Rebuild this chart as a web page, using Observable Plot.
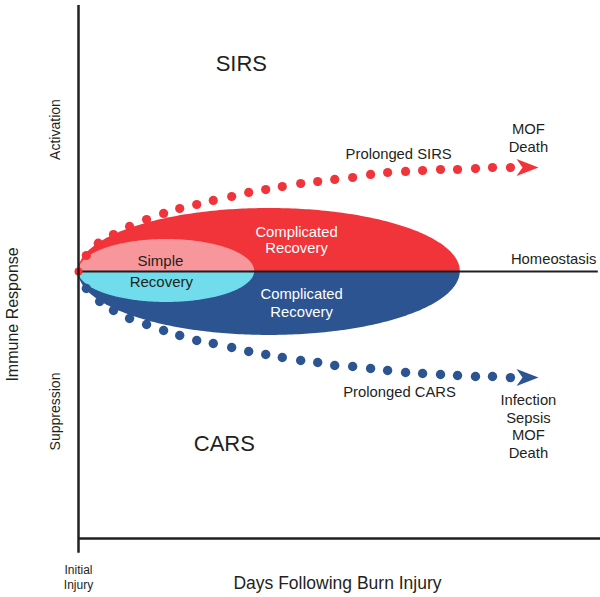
<!DOCTYPE html>
<html>
<head>
<meta charset="utf-8">
<script src="https://cdn.jsdelivr.net/npm/d3@7"></script>
<script src="https://cdn.jsdelivr.net/npm/@observablehq/plot@0.6"></script>
<style>
  html, body { margin: 0; padding: 0; background: #fff; }
  #chart svg { display: block; }
</style>
</head>
<body>
<div id="chart"></div>
<script>
// ---- data (days after injury on x, immune response on y; 0 = homeostasis) ----
const sirsDays = [1.7, 4.3, 7.6, 11.1, 14.8, 18.5, 22.0, 25.7, 29.3, 33.3, 37.0, 40.7, 44.3, 48.3, 52.0, 55.7, 59.6, 63.5, 67.2, 71.1, 74.8, 78.7, 82.4, 86.3, 90.0, 93.9];
const sirsResponse = [15.4, 27.2, 35.6, 43.3, 50, 55.8, 60.6, 64.4, 68.3, 72.1, 76, 78.8, 81.7, 84.6, 86.5, 88.5, 90.4, 93.3, 95.2, 96.2, 97.1, 98.1, 98.1, 99, 100, 100];
const carsDays = [1.7, 4.6, 7.6, 11.1, 14.8, 18.5, 22.0, 25.7, 29.3, 33.3, 37.0, 40.7, 44.3, 48.3, 52.0, 55.7, 59.6, 63.5, 67.2, 71.1, 74.8, 78.7, 82.4, 86.3, 90.0, 93.9];
const carsResponse = [-16.3, -28.8, -37.5, -45.2, -51, -56.7, -61.5, -66.3, -69.2, -73.1, -76.9, -79.8, -82.7, -85.6, -87.5, -90.4, -91.3, -93.3, -95.2, -97.1, -98.1, -99, -100, -101, -101, -102];
const arrowDays = [100, 100];
const arrowResponse = [100, -102];

// recovery zones: [start day, end day, peak activation, peak suppression]
const complicatedRecovery = [0, 83, 60.6, -61.5];
const simpleRecovery = [0, 38.3, 30.8, -29.8];

// frame
const yAxisSpan = [-271, 255.8];
const xAxisLevel = [-256.7];
const xAxisSpan = [0, 113.5];
const homeostasisSpan = [0, 113];

// labels
const bigLabels = ["SIRS", "CARS"];
const bigLabelX = [35.4, 31.7];
const bigLabelY = [200, -166.3];

const noteLabels = ["Prolonged SIRS", "MOF", "Death", "Prolonged CARS", "Infection", "Sepsis", "MOF", "Death", "Homeostasis"];
const noteX = [69.6, 97.8, 97.8, 69.8, 97.8, 97.8, 97.8, 97.8, 103.3];
const noteY = [112.5, 136.5, 119.2, -116.3, -124, -141.3, -157.7, -175, 11.5];

const zoneLabels = ["Complicated", "Recovery", "Complicated", "Recovery"];
const zoneX = [47.4, 47.4, 48.5, 48.5];
const zoneY = [37.5, 22.1, -22.1, -39.4];

const simpleLabels = ["Simple", "Recovery"];
const simpleX = [17.8, 18.0];
const simpleY = [9.6, -10.6];

const sideLabels = ["Activation", "Suppression"];
const sideX = [-5, -5];
const sideY = [136.5, -134.6];

const axisTitleY = ["Immune Response"];
const axisTitleYx = [-14.3];
const axisTitleYy = [-41.3];

const injuryLabels = ["Initial", "Injury"];
const injuryX = [0, 0];
const injuryY = [-287.5, -301.9];

const axisTitleX = ["Days Following Burn Injury"];
const axisTitleXx = [56.3];
const axisTitleXy = [-300];

// ---- build tables ----
const zip = (xs, ys, extra) => xs.map((x, i) => ({x, y: ys[i], ...(extra ? {t: extra[i]} : {})}));
const halfEllipse = ([x0, x1, up, down], upper) => {
  const cx = (x0 + x1) / 2, rx = (x1 - x0) / 2, h = upper ? up : down;
  return d3.range(0, 181).map(a => {
    const th = a * Math.PI / 180;
    return {x: cx - rx * Math.cos(th), y: h * Math.sin(th)};
  });
};

const RED = "#f1343a", BLUE = "#2c5491", PINK = "#f7979b", CYAN = "#70dcec", INK = "#231f20";
const FONT = "'Liberation Sans', Arial, Helvetica, sans-serif";

const arrowHead = {
  draw(ctx) {
    ctx.moveTo(0, 0);
    ctx.lineTo(-22, -8.5);
    ctx.lineTo(-16, 0);
    ctx.lineTo(-22, 8.5);
    ctx.closePath();
  }
};

const chart = Plot.plot({
  width: 600,
  height: 597,
  margin: 0,
  style: {fontFamily: FONT, background: "#fff"},
  x: {domain: [0, 100], range: [78, 538], axis: null},
  y: {domain: [-100, 100], range: [375, 167], axis: null},
  marks: [
    Plot.areaY(halfEllipse(complicatedRecovery, true), {x: "x", y1: 0, y2: "y", fill: RED}),
    Plot.areaY(halfEllipse(complicatedRecovery, false), {x: "x", y1: 0, y2: "y", fill: BLUE}),
    Plot.areaY(halfEllipse(simpleRecovery, true), {x: "x", y1: 0, y2: "y", fill: PINK}),
    Plot.areaY(halfEllipse(simpleRecovery, false), {x: "x", y1: 0, y2: "y", fill: CYAN}),
    Plot.ruleY([0], {x1: homeostasisSpan[0], x2: homeostasisSpan[1], stroke: INK, strokeWidth: 2}),
    Plot.dot(zip(sirsDays, sirsResponse), {x: "x", y: "y", r: 4.6, fill: RED}),
    Plot.dot(zip(carsDays, carsResponse), {x: "x", y: "y", r: 4.7, fill: BLUE}),
    Plot.dot([{x: 0, y: 0}], {x: "x", y: "y", r: 4, fill: RED}),
    Plot.dot(zip(arrowDays, arrowResponse), {x: "x", y: "y", r: 10, symbol: arrowHead, fill: (d, i) => i === 0 ? RED : BLUE}),
    Plot.ruleX([0], {y1: yAxisSpan[0], y2: yAxisSpan[1], stroke: INK, strokeWidth: 2.5}),
    Plot.ruleY(xAxisLevel, {x1: xAxisSpan[0], x2: xAxisSpan[1], stroke: INK, strokeWidth: 2.5}),
    Plot.text(zip(bigLabelX, bigLabelY, bigLabels), {x: "x", y: "y", text: "t", fontSize: 22, fill: INK}),
    Plot.text(zip(noteX, noteY, noteLabels), {x: "x", y: "y", text: "t", fontSize: 14.8, fill: INK}),
    Plot.text(zip(zoneX, zoneY, zoneLabels), {x: "x", y: "y", text: "t", fontSize: 14.8, fill: "#fff"}),
    Plot.text(zip(simpleX, simpleY, simpleLabels), {x: "x", y: "y", text: "t", fontSize: 15, fill: INK}),
    Plot.text(zip(sideX, sideY, sideLabels), {x: "x", y: "y", text: "t", fontSize: 14, rotate: -90, fill: INK}),
    Plot.text(zip(axisTitleYx, axisTitleYy, axisTitleY), {x: "x", y: "y", text: "t", fontSize: 16, rotate: -90, fill: INK}),
    Plot.text(zip(injuryX, injuryY, injuryLabels), {x: "x", y: "y", text: "t", fontSize: 12, fill: INK}),
    Plot.text(zip(axisTitleXx, axisTitleXy, axisTitleX), {x: "x", y: "y", text: "t", fontSize: 17.5, fill: INK})
  ]
});
document.getElementById("chart").appendChild(chart);
</script>
</body>
</html>
